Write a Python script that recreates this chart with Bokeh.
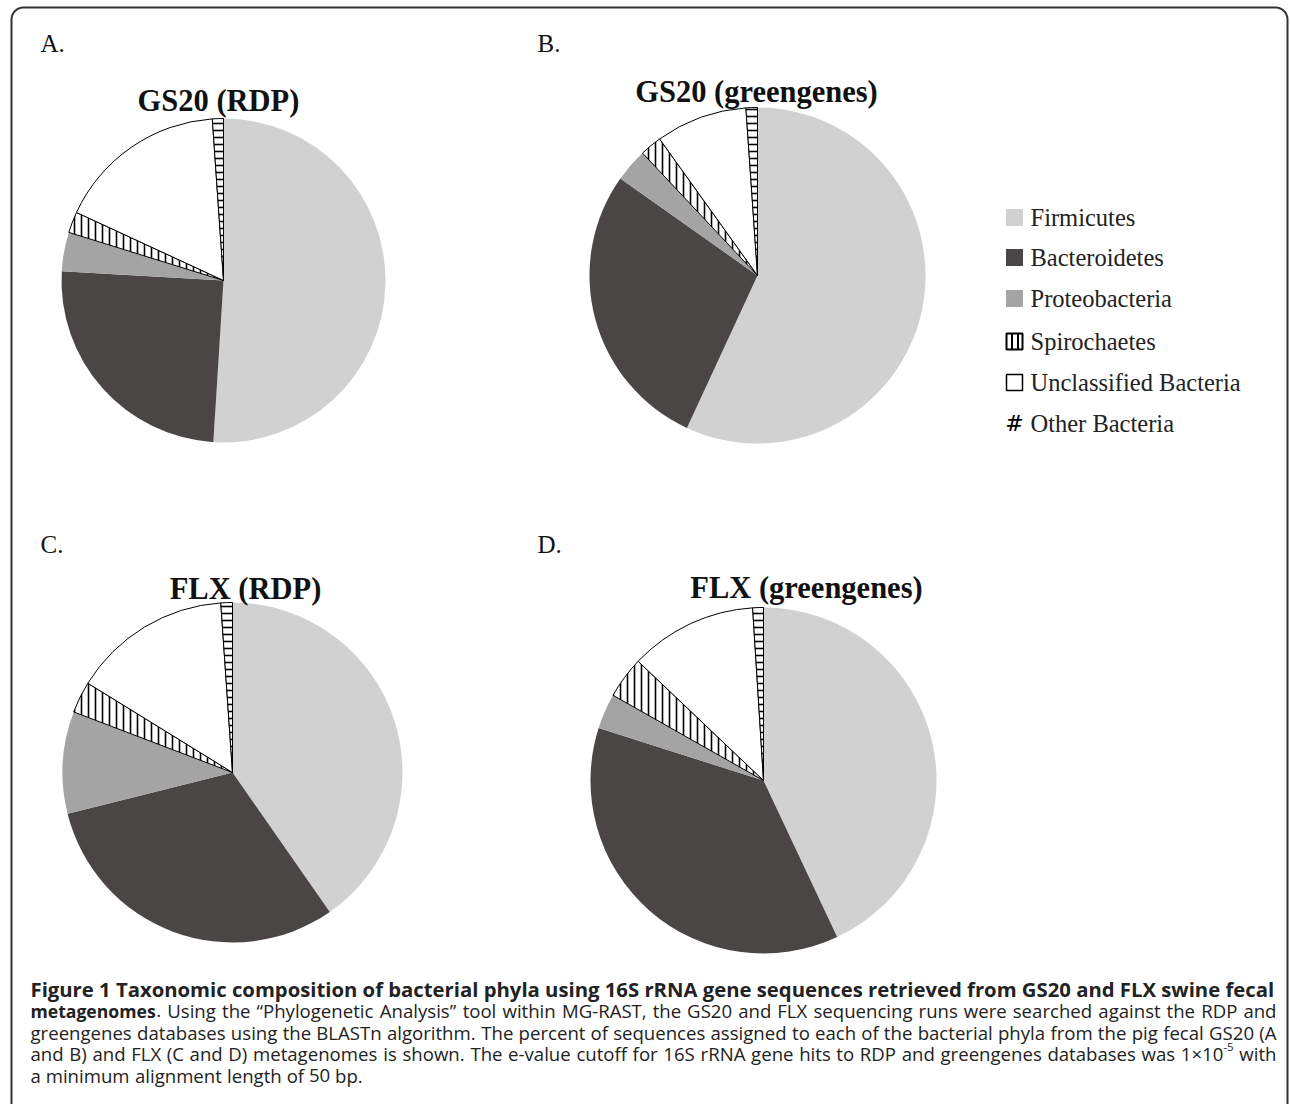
import numpy as np
from bokeh.plotting import figure
from bokeh.models import Range1d, ColumnDataSource
from bokeh.embed import file_html
from bokeh.resources import INLINE
from bokeh.core.properties import value

# ---------------- data ----------------
categories = ["Firmicutes", "Bacteroidetes", "Proteobacteria", "Spirochaetes",
              "Unclassified Bacteria", "Other Bacteria"]
gs20_rdp = [51.0, 24.9, 3.9, 2.1, 17.0, 1.1]
gs20_greengenes = [56.9, 27.9, 3.2, 2.1, 8.8, 1.1]
flx_rdp = [40.3, 30.8, 9.7, 3.0, 15.1, 1.1]
flx_greengenes = [43.0, 36.9, 3.3, 3.9, 11.9, 1.0]
panel_titles = ["GS20 (RDP)", "GS20 (greengenes)", "FLX (RDP)", "FLX (greengenes)"]
panel_letters = ["A.", "B.", "C.", "D."]

caption_title = "Figure 1 Taxonomic composition of bacterial phyla using 16S rRNA gene sequences retrieved from GS20 and FLX swine fecal"
caption_lines = [
    "metagenomes. Using the \u201cPhylogenetic Analysis\u201d tool within MG-RAST, the GS20 and FLX sequencing runs were searched against the RDP and",
    "greengenes databases using the BLASTn algorithm. The percent of sequences assigned to each of the bacterial phyla from the pig fecal GS20 (A",
    "and B) and FLX (C and D) metagenomes is shown. The e-value cutoff for 16S rRNA gene hits to RDP and greengenes databases was 1\u00d710^-5 with",
    "a minimum alignment length of 50 bp.",
]

# ---------------- styles ----------------
fills = ["#d1d1d1", "#4a4646", "#a4a4a4", "#ffffff", "#ffffff", "#ffffff"]
hatches = [" ", " ", " ", "|", " ", "-"]
line_alphas = [0.0, 0.0, 0.0, 1.0, 1.0, 1.0]

W, H = 1290, 1104
def Y(y):
    return H - y

p = figure(width=W, height=H, x_range=Range1d(0, W), y_range=Range1d(0, H),
           output_backend="svg", toolbar_location=None,
           x_axis_location=None, y_axis_location=None, min_border=0)
p.grid.visible = False
p.outline_line_color = None
p.background_fill_color = "white"

# frame with rounded top corners
rr = 12
xl, xr, yt = 11, 1287, 7
t1 = np.linspace(np.pi, np.pi / 2, 12)
t2 = np.linspace(np.pi / 2, 0, 12)
bx = [xl] + list(xl + rr + rr * np.cos(t1)) + list(xr - rr + rr * np.cos(t2)) + [xr]
by = [1110] + list(yt + rr - rr * np.sin(t1)) + list(yt + rr - rr * np.sin(t2)) + [1110]
p.line(bx, [Y(v) for v in by], line_color="#333333", line_width=2)

pies = [gs20_rdp, gs20_greengenes, flx_rdp, flx_greengenes]
centers = [(223, 280, 162), (757, 275, 168), (232, 772, 170), (763, 780, 173)]
title_pos = [(218, 100), (756, 91), (245, 588), (806, 587)]
letter_pos = [(40, 43), (537, 43), (40, 544), (537, 544)]

for vals, (cx, cy, r), title, (tx, ty), letter, (lx, ly) in zip(
        pies, centers, panel_titles, title_pos, panel_letters, letter_pos):
    v = np.array(vals, dtype=float)
    frac = v / v.sum()
    cum = np.concatenate([[0.0], np.cumsum(frac)])
    start = np.pi / 2 - cum[:-1] * 2 * np.pi
    end = np.pi / 2 - cum[1:] * 2 * np.pi
    src = ColumnDataSource(dict(
        x=[cx] * 6, y=[Y(cy)] * 6, start=start, end=end,
        fill=fills, hatch=hatches, la=line_alphas, cat=categories))
    p.wedge(x="x", y="y", radius=r, start_angle="start", end_angle="end",
            direction="clock", source=src, fill_color="fill",
            hatch_pattern="hatch", hatch_color="black", hatch_scale=7,
            hatch_weight=1.6, line_color="black", line_alpha="la", line_width=1)
    p.text(x=[tx], y=[Y(ty)], text=[title], text_font=value("Liberation Serif"),
           text_font_style="bold", text_font_size="30.5px", text_align="center",
           text_baseline="alphabetic", text_color="#111111")
    p.text(x=[lx], y=[Y(ly)], text=[letter], text_font=value("Liberation Serif"),
           text_font_size="25px", text_align="left", text_baseline="alphabetic",
           text_color="#111111")

# legend
leg_y = [217, 257, 298, 341, 382, 423]
sw_x = 1014
for i, (cat, col) in enumerate(zip(categories, fills)):
    yy = Y(leg_y[i])
    if i < 3:
        p.rect(x=[sw_x], y=[yy], width=17, height=17, fill_color=col, line_color=None)
    elif i == 3:
        p.rect(x=[sw_x], y=[yy], width=16, height=16, fill_color="white",
               line_color="black", line_width=2, hatch_pattern="|",
               hatch_scale=6, hatch_weight=2, hatch_color="black")
    elif i == 4:
        p.rect(x=[sw_x], y=[yy], width=16, height=16, fill_color="white",
               line_color="black", line_width=1.5)
    else:
        p.text(x=[sw_x], y=[yy], text=["#"], text_font=value("DejaVu Serif"),
               text_font_size="22px", text_align="center", text_baseline="middle",
               text_color="black")
    p.text(x=[1030], y=[yy], text=[cat], text_font=value("Liberation Serif"),
           text_font_size="24.5px", text_align="left", text_baseline="middle",
           text_color="#222222")

# ---------------- caption ----------------
base = [988, 1010, 1032, 1053, 1075]
LX, RX = 30, 1276

# bold first line, natural spacing
p.text(x=[LX], y=[Y(base[0])], text=[caption_title], text_font=value("Open Sans"),
       text_font_style="bold", text_font_size="20.3px", text_align="left",
       text_baseline="alphabetic", text_color="#222222")

# remaining lines justified word by word
OSW = {' ': 260, 'a': 556, 'b': 613, 'c': 476, 'd': 613, 'e': 561, 'f': 336, 'g': 548,
       'h': 613, 'i': 258, 'j': 258, 'k': 539, 'l': 258, 'm': 932, 'n': 613, 'o': 604,
       'p': 613, 'q': 613, 'r': 408, 's': 477, 't': 353, 'u': 613, 'v': 500, 'w': 778,
       'x': 517, 'y': 500, 'z': 468, 'A': 633, 'B': 647, 'C': 631, 'D': 729, 'E': 556,
       'F': 516, 'G': 728, 'H': 738, 'I': 279, 'L': 519, 'M': 907, 'N': 764, 'O': 779,
       'P': 602, 'R': 618, 'S': 549, 'T': 553, 'U': 728, 'X': 577, '.': 266, ',': 246,
       '(': 296, ')': 296, '-': 322, '\u201c': 358, '\u201d': 358, '\u00d7': 572}
for d in "0123456789":
    OSW[d] = 572
SIZES = {"r": 18.6, "b": 17.6, "sup": 11.5}

def est(s, style):
    w = sum(OSW.get(ch, 560) for ch in s) / 1000.0 * SIZES[style]
    return w * (1.067 if style == "b" else 1.0)

def tokenize(i, line):
    out = []
    for j, w in enumerate(line.split(" ")):
        if i == 0 and j == 0:
            out.append([(w[:-1], "b"), (w[-1], "r")])
        elif "^" in w:
            a, b = w.split("^")
            out.append([(a, "r"), (b, "sup")])
        else:
            out.append([(w, "r")])
    return out

cols = {s: dict(x=[], y=[], text=[], align=[]) for s in ("b", "r", "sup")}
for i, line in enumerate(caption_lines):
    words = tokenize(i, line)
    yb = Y(base[i + 1])
    widths = [sum(est(t, s) for t, s in w) for w in words]
    justify = i < len(caption_lines) - 1
    n = len(words)
    if justify:
        gap = (RX - LX - sum(widths)) / (n - 1)
        half = n // 2
    else:
        gap = est(" ", "r")
        half = n
    x = LX
    for k in range(half):
        xx = x
        for t, s in words[k]:
            cols[s]["x"].append(xx); cols[s]["text"].append(t); cols[s]["align"].append("left")
            cols[s]["y"].append(yb + (7 if s == "sup" else 0))
            xx += est(t, s)
        x += widths[k] + gap
    x = RX
    for k in range(n - 1, half - 1, -1):
        if len(words[k]) == 1:
            t, s = words[k][0]
            cols[s]["x"].append(x); cols[s]["text"].append(t); cols[s]["align"].append("right")
            cols[s]["y"].append(yb)
        else:
            xx = x - widths[k]
            for t, s in words[k]:
                cols[s]["x"].append(xx); cols[s]["text"].append(t); cols[s]["align"].append("left")
                cols[s]["y"].append(yb + (7 if s == "sup" else 0))
                xx += est(t, s)
        x -= widths[k] + gap

for s, d in cols.items():
    src = ColumnDataSource(d)
    p.text(x="x", y="y", text="text", source=src, text_align="align",
           text_font=value("Open Sans"),
           text_font_style="bold" if s == "b" else "normal",
           text_font_size=("%spx" % SIZES[s]),
           text_baseline="alphabetic", text_color="#222222")

open("out.html", "w").write(file_html(p, INLINE))
